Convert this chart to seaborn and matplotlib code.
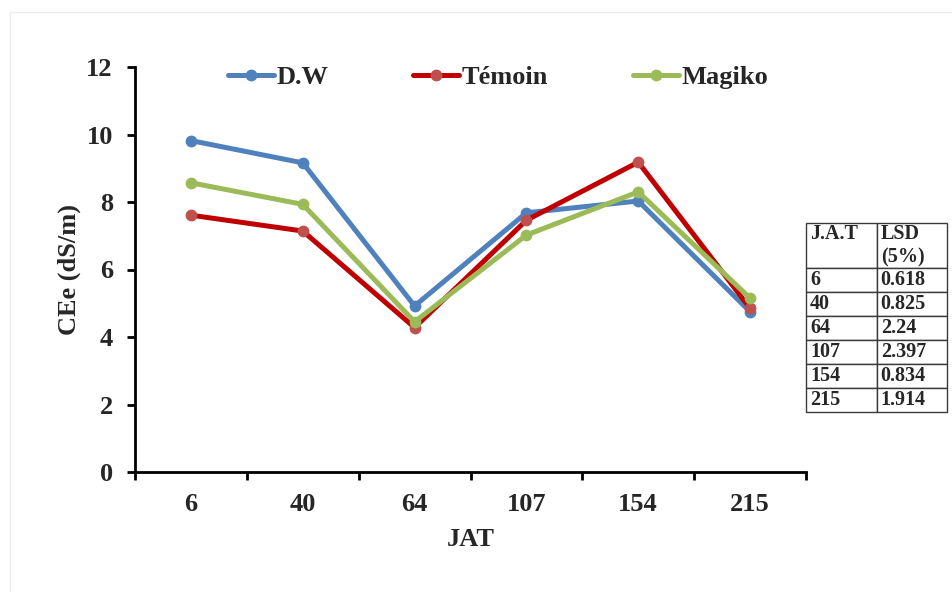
import matplotlib
matplotlib.use("Agg")
import matplotlib.pyplot as plt
from matplotlib.lines import Line2D
from matplotlib.patches import Rectangle
import seaborn as sns
import pandas as pd

# Sampling dates (days after transplanting)
jat = ["6", "40", "64", "107", "154", "215"]

# Soil electrical conductivity of the saturated paste extract (dS/m)
dw = [9.82, 9.16, 4.92, 7.68, 8.03, 4.75]
temoin = [7.61, 7.14, 4.28, 7.46, 9.18, 4.85]
magiko = [8.57, 7.93, 4.45, 7.02, 8.30, 5.15]

# LSD (5 %) for each date
lsd = ["0.618", "0.825", "2.24", "2.397", "0.834", "1.914"]

series_names = ["D.W", "Témoin", "Magiko"]
series_values = [dw, temoin, magiko]
line_colors = ["#4F81BD", "#C00000", "#9BBB59"]
marker_colors = ["#4F81BD", "#C0504D", "#9BBB59"]

rows = []
for name, vals in zip(series_names, series_values):
    for i, v in enumerate(vals):
        rows.append({"pos": i, "JAT": jat[i], "CEe": v, "Traitement": name})
df = pd.DataFrame(rows)

sns.set_theme(style="white")
plt.rcParams["font.family"] = ["Liberation Serif", "DejaVu Serif"]
plt.rcParams["font.weight"] = "bold"

FS = 19

fig = plt.figure(figsize=(9.52, 5.92), dpi=100)
ax = fig.add_axes([135 / 952, 1 - 472 / 592, 671 / 952, 405 / 592])

for name, lc, mc in zip(series_names, line_colors, marker_colors):
    sub = df[df["Traitement"] == name]
    sns.lineplot(data=sub, x="pos", y="CEe", ax=ax, color=lc, linewidth=3.6,
                 marker="o", markersize=8.5, markerfacecolor=mc,
                 markeredgecolor=mc, markeredgewidth=0, legend=False)

ax.set_xlim(-0.5, len(jat) - 0.5)
ax.set_ylim(0, 12)
ax.set_yticks(range(0, 13, 2))
ax.set_xticks(range(len(jat)))
ax.set_xticklabels(jat)
ax.set_xticks([i - 0.5 for i in range(len(jat) + 1)], minor=True)

for side in ["top", "right"]:
    ax.spines[side].set_visible(False)
for side in ["left", "bottom"]:
    ax.spines[side].set_color("black")
    ax.spines[side].set_linewidth(2)

ax.tick_params(axis="x", which="major", length=0, pad=15, labelsize=FS)
ax.tick_params(axis="x", which="minor", length=6, width=2, color="black",
               direction="out", bottom=True)
ax.tick_params(axis="y", which="major", length=6, width=2, color="black",
               direction="out", left=True, pad=10, labelsize=FS)
for lab in ax.get_xticklabels() + ax.get_yticklabels():
    lab.set_fontweight("bold")

ax.set_xlabel("JAT", fontsize=FS, fontweight="bold", labelpad=8.5)
ax.set_ylabel("CEe (dS/m)", fontsize=FS, fontweight="bold", labelpad=4)

handles = [Line2D([0], [0], color=lc, lw=3.6, marker="o", markersize=8.5,
                  markerfacecolor=mc, markeredgecolor=mc, markeredgewidth=0)
           for lc, mc in zip(line_colors, marker_colors)]
leg = ax.legend(handles, series_names, loc="upper center",
                bbox_to_anchor=(0.541, 1.062), ncol=3, frameon=False,
                handlelength=1.75, handletextpad=0.1, columnspacing=3.2,
                prop={"family": "Liberation Serif", "weight": "bold", "size": FS})

# LSD table to the right of the plot
cell_text = [["J.A.T\n ", "LSD\n(5%)"]] + [[d, v] for d, v in zip(jat, lsd)]
x0 = 1.0
x1 = (947 - 135) / 671
y0 = (472 - 412) / 405
y1 = (472 - 223) / 405
tbl = ax.table(cellText=cell_text, cellLoc="left", colWidths=[0.5, 0.5],
               bbox=[x0, y0, x1 - x0, y1 - y0])
tbl.auto_set_font_size(False)
tbl.set_fontsize(14.5)
n_rows = len(cell_text)
header_h = 45 / 189
body_h = (1 - header_h) / (n_rows - 1)
for (r, c), cell in tbl.get_celld().items():
    cell.set_edgecolor("#3a3a3a")
    cell.set_linewidth(1.0)
    cell.PAD = 0.06
    cell.get_text().set_fontweight("bold")
    cell.get_text().set_fontfamily("Liberation Serif")
    cell.set_height((header_h if r == 0 else body_h) * (y1 - y0))
tbl.set_clip_on(False)

# faint outer frame of the chart area
fig.patches.append(Rectangle((10 / 952, -0.01), 1.0, 1 - 12 / 592 + 0.01,
                             transform=fig.transFigure, fill=False,
                             edgecolor="#ececec", linewidth=1.0))

fig.savefig("out.png", dpi=100, facecolor="white")
